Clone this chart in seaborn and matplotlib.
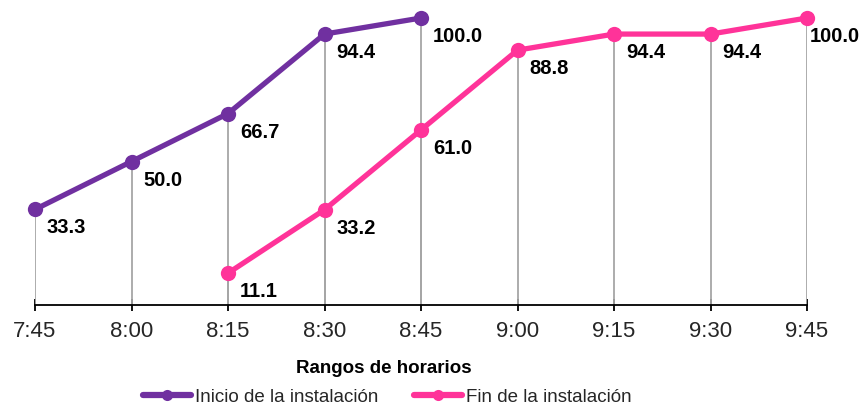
import matplotlib
matplotlib.use("Agg")
import matplotlib.pyplot as plt
import seaborn as sns
import pandas as pd

categories = ["7:45", "8:00", "8:15", "8:30", "8:45", "9:00", "9:15", "9:30", "9:45"]
inicio_x = ["7:45", "8:00", "8:15", "8:30", "8:45"]
inicio_vals = [33.3, 50.0, 66.7, 94.4, 100.0]
fin_x = ["8:15", "8:30", "8:45", "9:00", "9:15", "9:30", "9:45"]
fin_vals = [11.1, 33.2, 61.0, 88.8, 94.4, 94.4, 100.0]

series_names = ["Inicio de la instalación", "Fin de la instalación"]
colors = ["#7030A0", "#FF3399"]

sns.set_theme(style="white")
plt.rcParams["font.family"] = ["Liberation Sans", "DejaVu Sans"]

pos = {c: i for i, c in enumerate(categories)}
df = pd.concat([
    pd.DataFrame({"x": [pos[c] for c in inicio_x], "y": inicio_vals, "serie": series_names[0]}),
    pd.DataFrame({"x": [pos[c] for c in fin_x], "y": fin_vals, "serie": series_names[1]}),
], ignore_index=True)

fig = plt.figure(figsize=(8.65, 4.07), dpi=100)
ax = fig.add_axes([35/865, (407-305)/407, (807-35)/865, (305-18)/407])

# drop lines
ax.vlines(df["x"], 0, df["y"], colors="#A6A6A6", linewidth=1.3, zorder=1)

sns.lineplot(data=df, x="x", y="y", hue="serie", palette=colors, hue_order=series_names,
             marker="o", markersize=11, markeredgewidth=0, linewidth=3.8, ax=ax,
             zorder=3, legend=True)
for line in ax.lines:
    line.set_clip_on(False)

last = len(categories) - 1
for _, r in df.iterrows():
    dx = 2 if r["x"] == last else 8.5
    ax.annotate(f"{r['y']:.1f}", (r["x"], r["y"]), xytext=(dx, -6.5), textcoords="offset points",
                ha="left", va="top", fontsize=14.5, fontweight="bold", color="black",
                annotation_clip=False)

ax.set_xlim(0, 8)
ax.set_ylim(0, 100)
ax.set_xticks(range(len(categories)))
ax.set_xticklabels(categories, fontsize=16)
ax.set_yticks([])
ax.set_ylabel("")
ax.set_xlabel("")
for s in ["left", "right", "top"]:
    ax.spines[s].set_visible(False)
ax.spines["bottom"].set_color("black")
ax.spines["bottom"].set_linewidth(1.3)
ax.tick_params(axis="x", direction="inout", length=8.6, width=1.3, color="black", bottom=True, pad=7)

fig.text(384/865, (407-373)/407, "Rangos de horarios", ha="center", va="baseline",
         fontsize=13.5, fontweight="bold", color="black")

handles, labels = ax.get_legend_handles_labels()
ax.legend_.remove()
for h in handles:
    h.set_linewidth(4.5)
    h.set_markersize(8)
fig.legend(handles, labels, loc="center", bbox_to_anchor=(387/865, (407-397)/407), ncol=2, frameon=False,
           fontsize=13.5, handlelength=2.56, handletextpad=0.21, columnspacing=1.9, borderaxespad=0,
           borderpad=0)

fig.savefig("out.png", dpi=100)
